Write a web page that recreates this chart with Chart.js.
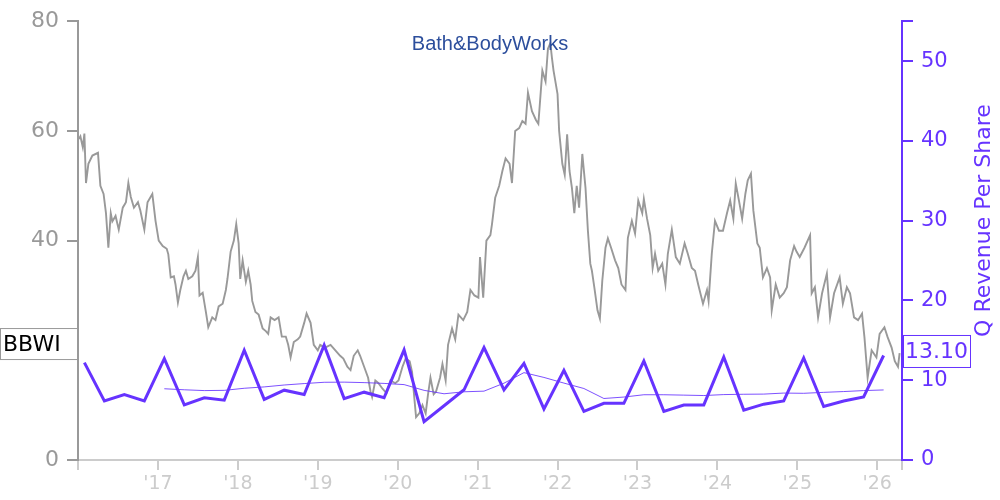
<!DOCTYPE html>
<html>
<head>
<meta charset="utf-8">
<script src="https://cdn.jsdelivr.net/npm/chart.js@4.4.0/dist/chart.umd.min.js"></script>
<style>
  html, body { margin: 0; padding: 0; background: #fff; }
  #wrap { width: 1000px; height: 500px; position: relative; }
</style>
</head>
<body>
<div id="wrap"><canvas id="bbwiChart"></canvas></div>
<script>
const ticker = "BBWI";
const companyName = "Bath&BodyWorks";
const revenueTitle = "Q Revenue Per Share";

// share price, decimal years
const priceDates = [
  2016.01,2016.03,2016.06,2016.08,2016.10,2016.13,2016.18,2016.25,2016.28,2016.32,2016.35,2016.38,2016.41,2016.43,2016.47,2016.51,2016.56,2016.60,2016.63,2016.66,2016.70,2016.75,2016.78,2016.83,2016.87,2016.93,2016.97,
  2017.01,2017.06,2017.11,2017.13,2017.16,2017.20,2017.22,2017.25,2017.28,2017.32,2017.35,2017.38,2017.43,2017.47,2017.50,2017.52,2017.56,2017.60,2017.63,2017.68,2017.72,2017.76,2017.81,2017.85,2017.87,2017.91,2017.95,2017.98,
  2018.01,2018.03,2018.06,2018.10,2018.13,2018.16,2018.18,2018.22,2018.26,2018.31,2018.35,2018.38,2018.41,2018.46,2018.51,2018.55,2018.60,2018.63,2018.66,2018.70,2018.75,2018.78,2018.83,2018.86,2018.91,2018.95,
  2019.00,2019.03,2019.09,2019.16,2019.22,2019.28,2019.32,2019.37,2019.41,2019.45,2019.50,2019.53,2019.58,2019.63,2019.66,2019.68,2019.72,2019.76,2019.81,2019.86,2019.91,2019.97,
  2020.01,2020.06,2020.10,2020.15,2020.18,2020.21,2020.23,2020.27,2020.31,2020.35,2020.38,2020.41,2020.45,2020.48,2020.53,2020.56,2020.60,2020.63,2020.68,2020.72,2020.76,2020.82,2020.87,2020.91,2020.96,
  2021.01,2021.03,2021.07,2021.11,2021.16,2021.18,2021.22,2021.27,2021.31,2021.35,2021.40,2021.43,2021.47,2021.52,2021.56,2021.60,2021.63,2021.68,2021.73,2021.76,2021.81,2021.85,2021.88,2021.91,2021.93,2021.95,
  2022.00,2022.02,2022.06,2022.09,2022.12,2022.15,2022.18,2022.21,2022.24,2022.27,2022.31,2022.35,2022.38,2022.41,2022.43,2022.46,2022.50,2022.53,2022.56,2022.60,2022.63,2022.67,2022.72,2022.76,2022.80,2022.85,2022.88,2022.93,2022.97,
  2023.01,2023.06,2023.08,2023.12,2023.16,2023.19,2023.22,2023.26,2023.31,2023.35,2023.38,2023.43,2023.48,2023.53,2023.59,2023.63,2023.68,2023.72,2023.76,2023.82,2023.87,2023.89,2023.93,2023.97,
  2024.02,2024.07,2024.12,2024.16,2024.20,2024.23,2024.27,2024.31,2024.35,2024.38,2024.42,2024.45,2024.50,2024.53,2024.57,2024.62,2024.66,2024.68,2024.73,2024.78,2024.83,2024.87,2024.91,2024.96,2024.99,
  2025.03,2025.09,2025.16,2025.18,2025.22,2025.26,2025.31,2025.37,2025.41,2025.46,2025.53,2025.57,2025.62,2025.66,2025.71,2025.76,2025.81,2025.84,2025.88,2025.93,2025.99,
  2026.03,2026.09,2026.13,2026.18,2026.22,2026.26,2026.28
];
const priceValues = [
  58.5,59,57,59.5,50.5,54,55.5,56,50,48.5,45,38.7,45,43.5,44.5,42,46,47,50.5,48,46,47,45.5,42,47,48.5,43.6,
  40,39,38.5,37.5,33.3,33.5,32,28.7,31,33.5,34.5,33,33.5,34.5,37,30,30.5,27,24.2,26,25.5,28,28.5,31,33,38,40,43,
  39.5,33,36.4,32.5,34.5,32,29,27,26.5,24,23.5,23,26,25.5,26,22.5,22.5,21,18.7,21.5,22,22.5,25,26.7,25,21,
  20,21,20.5,21,20,19,18.5,17,16.4,19,20,19,17,15,12.5,11.5,14.5,14,13,12.2,14.5,14,
  14.5,17,18.5,18,16,11,7.8,8.5,10,8.5,12,15,12,12.5,15,17.5,14.5,21,24,22,26.5,25.5,27,31,30,
  29.6,37,29.6,40,41,43,47.8,50,52.7,55,54,50.5,60,60.5,61.8,61.3,67,63.6,62,61.3,71,69,75,76,73.3,71,
  66.7,60,54,52,59.4,52.7,49.6,45,50,46,55.8,49.6,41.8,35.8,34.5,31.5,27.3,25.8,32.7,38.7,40.4,38.7,36.4,35,32,31,40.5,43.6,41.3,
  47.3,45,47.6,44,41,35,37.6,34.5,35.8,32,37.6,42,37,35.8,39.5,37.6,35,34.5,32,28.5,31,29,37.6,43.6,
  41.8,41.8,45,47.3,44,50.4,47.3,44,48.5,51,52.2,45.5,39.5,38.7,33.3,35,33.3,27.3,32,29.6,30.4,31.5,36.4,39,38,
  37,38.7,41,30.4,31.5,26,30.4,34,26,30.4,33.3,28.5,31.5,30.4,26,25.5,26.7,22.4,15,20,18.7,
  23,24.2,22.4,20.5,18,17,19.5
];

// quarterly revenue per share (fiscal quarter ends)
const quarterDates = [
  2016.08,2016.33,2016.58,2016.83,2017.08,2017.33,2017.58,2017.83,2018.08,2018.33,2018.58,2018.83,
  2019.08,2019.33,2019.58,2019.83,2020.08,2020.33,2020.58,2020.83,2021.08,2021.33,2021.58,2021.83,
  2022.08,2022.33,2022.58,2022.83,2023.08,2023.33,2023.58,2023.83,2024.08,2024.33,2024.58,2024.83,
  2025.08,2025.33,2025.58,2025.83,2026.08
];
const revenuePerShare = [
  12.2,7.4,8.2,7.4,12.7,6.9,7.8,7.5,13.75,7.6,8.75,8.2,
  14.4,7.7,8.5,7.8,13.8,4.8,6.8,8.8,14.1,8.8,12.1,6.4,
  11.25,6.1,7.1,7.1,12.4,6.1,6.9,6.9,12.9,6.25,7.0,7.4,
  12.8,6.7,7.4,7.9,13.1
];
// trailing four-quarter average, as drawn
const avgDates = quarterDates.slice(4);
const avgRevenue = [
  8.93,8.8,8.7,8.73,8.99,9.16,9.4,9.58,9.74,9.76,9.7,9.6,9.45,8.73,8.3,8.55,8.63,9.63,10.95,
  10.35,9.64,8.96,7.71,7.89,8.18,8.18,8.13,8.08,8.2,8.24,8.26,8.39,8.36,8.48,8.58,8.7,8.78
];

const yearTicks = [2016,2017,2018,2019,2020,2021,2022,2023,2024,2025,2026];
const priceTicks = [0,20,40,60,80];
const revenueTicks = [0,10,20,30,40,50,55];
const xStart = 2016;
const xEnd = 2026.31;

const PURPLE = "#6633ff";
const GREY = "#999999";
const LIGHT = "#cccccc";

Chart.defaults.font.family = "'DejaVu Sans', sans-serif";

function toPoints(xs, ys) {
  return xs.map((x, i) => ({ x: x, y: ys[i] }));
}

const labelsPlugin = {
  id: "labels",
  afterDraw(chart) {
    const ctx = chart.ctx;
    const area = chart.chartArea;
    const yL = chart.scales.y;
    const yR = chart.scales.y1;
    ctx.save();

    // logo text
    ctx.font = "20px 'Liberation Sans', sans-serif";
    ctx.fillStyle = "#2c4e9c";
    ctx.textAlign = "center";
    ctx.textBaseline = "alphabetic";
    ctx.fillText(companyName, (area.left + area.right) / 2, area.top + 29, 158);

    // right axis title, reading upward
    ctx.save();
    ctx.translate(990, (area.top + area.bottom) / 2 - 20);
    ctx.rotate(-Math.PI / 2);
    ctx.font = "22px 'DejaVu Sans'";
    ctx.fillStyle = PURPLE;
    ctx.textAlign = "center";
    ctx.fillText(revenueTitle, 0, 0);
    ctx.restore();

    ctx.font = "22px 'DejaVu Sans'";
    ctx.textAlign = "left";
    ctx.textBaseline = "middle";
    ctx.lineWidth = 1;

    // ticker box at last price
    const lastPrice = priceValues[priceValues.length - 1];
    let cy = yL.getPixelForValue(lastPrice) - 9;
    ctx.fillStyle = "#fff";
    ctx.fillRect(0.5, cy - 15.5, area.left - 1, 31);
    ctx.strokeStyle = GREY;
    ctx.strokeRect(0.5, cy - 15.5, area.left - 1, 31);
    ctx.fillStyle = "#000";
    ctx.fillText(ticker, 3, cy + 1);

    // last revenue box
    const lastRev = revenuePerShare[revenuePerShare.length - 1];
    cy = yR.getPixelForValue(lastRev) - 4;
    ctx.fillStyle = "#fff";
    ctx.fillRect(area.right + 1.5, cy - 16, 67, 32);
    ctx.strokeStyle = PURPLE;
    ctx.strokeRect(area.right + 1.5, cy - 16, 67, 32);
    ctx.fillStyle = PURPLE;
    ctx.fillText(lastRev.toFixed(2), area.right + 3, cy + 1);

    ctx.restore();
  }
};

function loadChart() {
  const ctx = document.getElementById("bbwiChart");
  if (!ctx) {
    console.error("no #bbwiChart");
    return;
  }

  const config = {
    type: "line",
    data: {
      datasets: [
        {
          label: "Q Revenue Per Share",
          data: toPoints(quarterDates, revenuePerShare),
          yAxisID: "y1",
          borderColor: PURPLE,
          borderWidth: 3,
          pointRadius: 0,
          tension: 0,
          order: 0
        },
        {
          label: "TTM average",
          data: toPoints(avgDates, avgRevenue),
          yAxisID: "y1",
          borderColor: "rgba(102, 51, 255, 0.85)",
          borderWidth: 1,
          pointRadius: 0,
          tension: 0,
          order: 1
        },
        {
          label: ticker,
          data: toPoints(priceDates, priceValues),
          yAxisID: "y",
          borderColor: GREY,
          borderWidth: 1.9,
          pointRadius: 0,
          tension: 0,
          order: 2
        }
      ]
    },
    options: {
      responsive: true,
      maintainAspectRatio: false,
      animation: false,
      events: [],
      layout: { padding: { top: 20, left: 0, right: 0, bottom: 0 } },
      plugins: {
        legend: { display: false },
        tooltip: { enabled: false }
      },
      scales: {
        x: {
          type: "linear",
          position: "bottom",
          min: xStart,
          max: xEnd,
          afterBuildTicks: (axis) => {
            axis.ticks = yearTicks.concat([xEnd]).map(v => ({ value: v }));
          },
          afterFit: (axis) => { axis.height = 40; },
          ticks: {
            color: LIGHT,
            font: { size: 19 },
            padding: 3,
            maxRotation: 0,
            autoSkip: false,
            callback: (v) => (yearTicks.includes(v) && v > xStart) ? "'" + String(v).slice(2) : ""
          },
          grid: { drawOnChartArea: false, drawTicks: true, tickLength: 10, color: LIGHT, lineWidth: 2 },
          border: { color: LIGHT, width: 2 }
        },
        y: {
          position: "left",
          min: 0,
          max: 80,
          afterBuildTicks: (axis) => {
            axis.ticks = priceTicks.map(v => ({ value: v }));
          },
          afterFit: (axis) => { axis.width = 78; },
          ticks: { color: GREY, font: { size: 22 }, padding: 8 },
          grid: { drawOnChartArea: false, tickLength: 11, color: GREY, lineWidth: 2 },
          border: { color: GREY, width: 2 }
        },
        y1: {
          position: "right",
          min: 0,
          max: 55,
          afterBuildTicks: (axis) => {
            axis.ticks = revenueTicks.map(v => ({ value: v }));
          },
          afterFit: (axis) => { axis.width = 98; },
          ticks: {
            color: PURPLE,
            font: { size: 21 },
            padding: 8,
            callback: (v) => (v % 10 === 0) ? String(v) : ""
          },
          grid: { drawOnChartArea: false, tickLength: 11, color: PURPLE, lineWidth: 2 },
          border: { color: PURPLE, width: 2 }
        }
      }
    },
    plugins: [labelsPlugin]
  };

  new Chart(ctx, config);
}

loadChart();
</script>
</body>
</html>
